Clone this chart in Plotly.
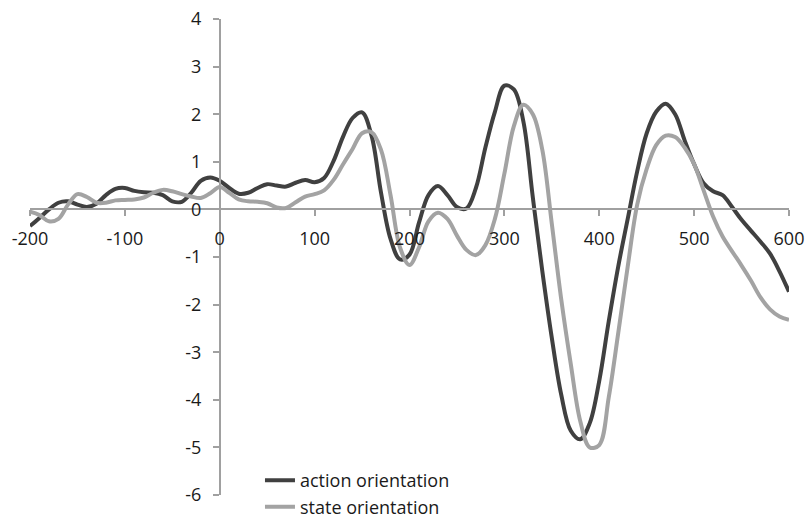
import plotly.graph_objects as go

time_ms = list(range(-200, 601, 10))

action_orientation = [
    -0.35, -0.18, 0.00, 0.14, 0.17, 0.10, 0.05, 0.12, 0.30, 0.43,
    0.45, 0.39, 0.36, 0.35, 0.30, 0.17, 0.16, 0.35, 0.60, 0.67,
    0.60, 0.45, 0.33, 0.35, 0.45, 0.53, 0.50, 0.48, 0.56, 0.62,
    0.57, 0.66, 1.02, 1.53, 1.92, 2.04, 1.55, 0.35, -0.62, -1.05,
    -0.95, -0.28, 0.30, 0.49, 0.30, 0.05, 0.02, 0.45, 1.30, 2.05,
    2.60, 2.52, 1.85, 0.25, -1.30, -2.70, -3.90, -4.65, -4.83, -4.49,
    -3.60, -2.35, -1.20, -0.20, 0.80, 1.60, 2.05, 2.22, 2.00, 1.45,
    0.95, 0.55, 0.38, 0.30, 0.05, -0.22, -0.45, -0.68, -0.93, -1.30,
    -1.73,
]

state_orientation = [
    -0.05, -0.12, -0.25, -0.20, 0.10, 0.32, 0.26, 0.14, 0.14, 0.19,
    0.20, 0.21, 0.25, 0.35, 0.41, 0.38, 0.32, 0.27, 0.24, 0.34,
    0.47, 0.35, 0.21, 0.17, 0.16, 0.13, 0.04, 0.03, 0.15, 0.27,
    0.32, 0.40, 0.62, 0.95, 1.27, 1.60, 1.62, 1.25, 0.30, -0.80,
    -1.17, -0.80, -0.25, -0.07, -0.20, -0.55, -0.85, -0.96, -0.75, -0.20,
    0.75, 1.75, 2.20, 2.00, 1.25, -0.30, -1.90, -3.25, -4.45, -5.00,
    -4.95, -3.95, -2.60, -1.20, 0.10, 0.85, 1.35, 1.55, 1.52, 1.30,
    0.95, 0.40, -0.15, -0.57, -0.88, -1.18, -1.50, -1.85, -2.10, -2.25,
    -2.32,
]

x_ticks = [-200, -100, 0, 100, 200, 300, 400, 500, 600]
y_ticks = [-6, -5, -4, -3, -2, -1, 0, 1, 2, 3, 4]

fig = go.Figure()
fig.add_trace(go.Scatter(
    x=time_ms, y=action_orientation, mode="lines", name="action orientation",
    line=dict(color="#404040", width=4, shape="spline", smoothing=1.0),
))
fig.add_trace(go.Scatter(
    x=time_ms, y=state_orientation, mode="lines", name="state orientation",
    line=dict(color="#a3a3a3", width=4, shape="spline", smoothing=1.0),
))

axis_font = dict(family="Open Sans, Noto Sans, sans-serif", size=18, color="#1a1a1a")

fig.update_layout(
    width=807, height=518,
    margin=dict(l=30, r=18, t=19, b=23, autoexpand=False),
    paper_bgcolor="white", plot_bgcolor="white",
    showlegend=True,
    legend=dict(
        x=0.303, y=0.069, xanchor="left", yanchor="top",
        bgcolor="rgba(0,0,0,0)", font=dict(family="Open Sans, Noto Sans, sans-serif", size=18, color="#1a1a1a"),
        tracegroupgap=0, itemwidth=30,
    ),
    xaxis=dict(
        range=[-200, 600], tickvals=x_ticks, ticktext=[str(v) for v in x_ticks],
        showgrid=False, zeroline=False, showline=True, linecolor="#a0a0a0", linewidth=1.5,
        ticks="outside", ticklen=6, tickcolor="#a0a0a0", tickwidth=1.5,
        anchor="free", position=0.6, tickfont=axis_font, automargin=False,
        ticklabelstandoff=7, ticklabeloverflow="allow",
    ),
    yaxis=dict(
        range=[-6, 4], tickvals=y_ticks, ticktext=[str(v) for v in y_ticks],
        showgrid=False, zeroline=False, showline=True, linecolor="#a0a0a0", linewidth=1.5,
        ticks="outside", ticklen=6, tickcolor="#a0a0a0", tickwidth=1.5,
        anchor="free", position=0.25, tickfont=axis_font, ticklabelstandoff=8,
        automargin=False, ticklabeloverflow="allow",
    ),
)

fig.write_html(
    "out.html",
    config={"displayModeBar": False},
    post_script="document.body.style.margin='0';",
)
